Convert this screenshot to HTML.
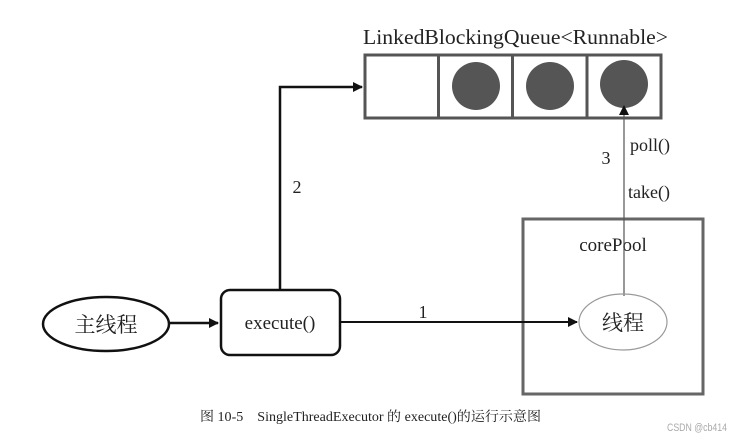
<!DOCTYPE html>
<html><head><meta charset="utf-8"><style>
html,body{margin:0;padding:0;background:#fff;width:742px;height:441px;overflow:hidden}
svg{display:block}
text{font-family:"Liberation Serif","Noto Serif CJK SC",serif;fill:#222}
</style></head><body>
<svg width="742" height="441" viewBox="0 0 742 441" xmlns="http://www.w3.org/2000/svg">
<defs>
<marker id="a" markerWidth="10" markerHeight="10" refX="9" refY="5" orient="auto" markerUnits="userSpaceOnUse"><path d="M0,0 L10,5 L0,10 z" fill="#111"/></marker>
</defs>
<text x="363" y="44" font-size="21" textLength="305" lengthAdjust="spacingAndGlyphs">LinkedBlockingQueue&lt;Runnable&gt;</text>
<rect x="365" y="55" width="296" height="63" fill="none" stroke="#555" stroke-width="3"/>
<line x1="438.5" y1="55" x2="438.5" y2="118" stroke="#555" stroke-width="3"/>
<line x1="512.5" y1="55" x2="512.5" y2="118" stroke="#555" stroke-width="3"/>
<line x1="587" y1="55" x2="587" y2="118" stroke="#555" stroke-width="3"/>
<circle cx="476" cy="86" r="24" fill="#555"/>
<circle cx="550" cy="86" r="24" fill="#555"/>
<circle cx="624" cy="84" r="24" fill="#555"/>
<polyline points="280,290 280,87 362,87" fill="none" stroke="#111" stroke-width="2.5" marker-end="url(#a)"/>
<text x="297" y="193" font-size="18" text-anchor="middle">2</text>
<rect x="523" y="219" width="180" height="175" fill="none" stroke="#666" stroke-width="3"/>
<text x="613" y="251" font-size="19" text-anchor="middle">corePool</text>
<line x1="624" y1="296" x2="624" y2="106" stroke="#555" stroke-width="1.2" marker-end="url(#a)"/>
<text x="606" y="164" font-size="18" text-anchor="middle">3</text>
<text x="630" y="151" font-size="18">poll()</text>
<text x="628" y="198" font-size="18">take()</text>
<ellipse cx="106" cy="324" rx="63" ry="27" fill="none" stroke="#111" stroke-width="2.5"/>
<text x="106" y="332" font-size="21" text-anchor="middle">主线程</text>
<line x1="170" y1="323" x2="218" y2="323" stroke="#111" stroke-width="2.5" marker-end="url(#a)"/>
<rect x="221" y="290" width="119" height="65" rx="9" fill="none" stroke="#111" stroke-width="2.5"/>
<text x="280" y="329" font-size="19" text-anchor="middle">execute()</text>
<line x1="340" y1="322" x2="577" y2="322" stroke="#111" stroke-width="2" marker-end="url(#a)"/>
<text x="423" y="318" font-size="18" text-anchor="middle">1</text>
<ellipse cx="623" cy="322" rx="44" ry="28" fill="none" stroke="#999" stroke-width="1.2"/>
<text x="623" y="330" font-size="21" text-anchor="middle">线程</text>
<text x="200" y="421" font-size="13.5" textLength="341" lengthAdjust="spacingAndGlyphs">图 10-5　SingleThreadExecutor 的 execute()的运行示意图</text>
<text x="667" y="431" font-size="11" textLength="60" lengthAdjust="spacingAndGlyphs" style="font-family:'Liberation Sans',sans-serif;fill:#aaa">CSDN @cb414</text>
</svg>
</body></html>
